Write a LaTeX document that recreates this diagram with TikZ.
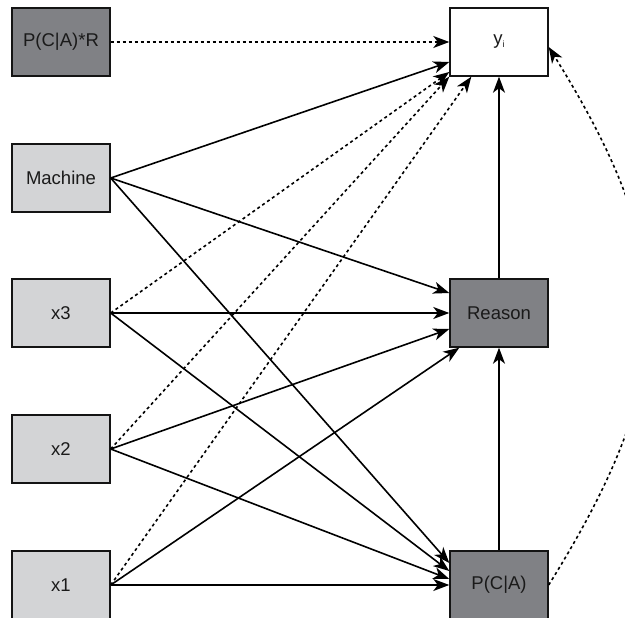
\documentclass[tikz,border=0pt]{standalone}
\usepackage{fontspec}
\setmainfont{Liberation Sans}
\usetikzlibrary{arrows.meta}
\definecolor{darkfill}{RGB}{128,129,133}
\definecolor{lightfill}{RGB}{211,212,214}
\definecolor{txt}{RGB}{26,26,26}
\definecolor{edgecol}{RGB}{20,20,20}
\begin{document}
\begin{tikzpicture}[x=1pt,y=-1pt,
  box/.style={draw=edgecol, line width=1.4pt, minimum width=98pt, minimum height=68pt,
    inner sep=0pt, font=\fontsize{18.5}{20}\selectfont, text=txt},
  darkbox/.style={box, fill=darkfill},
  lightbox/.style={box, fill=lightfill},
  plainbox/.style={box, fill=white},
  arr/.style={-{Stealth[length=16pt,width=12pt,inset=4.5pt]}, line width=1.6pt, draw=black},
  dotarr/.style={arr, dash pattern=on 3pt off 3pt}
]
\useasboundingbox (0,0) rectangle (625,618);
% left column
\node[darkbox]  (prr)  at (61,42)  {P(C|A)*R};
\node[lightbox] (mach) at (61,178) {Machine};
\node[lightbox] (x3)   at (61,313) {x3};
\node[lightbox] (x2)   at (61,449) {x2};
\node[lightbox] (x1)   at (61,585) {x1};
% right column
\node[plainbox] (yi)  at (499,42)  {y\raisebox{-2.5pt}{\fontsize{9}{9}\selectfont i}};
\node[darkbox]  (rea) at (499,313) {Reason};
\node[darkbox]  (pca) at (499,585) {P(C|A)};
% dotted edges
\draw[dotarr] (prr.east) -- (yi.west);
\draw[dotarr] (x3.east) -- ([yshift=-30pt]yi.west);
\draw[dotarr] (x2.east) -- (yi.south west);
\draw[dotarr] (x1.east) -- ([xshift=22pt]yi.south west);
% solid edges
\draw[arr] (mach.east) -- ([yshift=-20pt]yi.west);
\draw[arr] (mach.east) -- ([yshift=20pt]rea.west);
\draw[arr] (mach.east) -- ([yshift=22pt]pca.west);
\draw[arr] (x3.east) -- (rea.west);
\draw[arr] (x3.east) -- ([yshift=14pt]pca.west);
\draw[arr] (x2.east) -- ([yshift=-16pt]rea.west);
\draw[arr] (x2.east) -- ([yshift=6pt]pca.west);
\draw[arr] (x1.east) -- ([xshift=10pt]rea.south west);
\draw[arr] (x1.east) -- (pca.west);
\draw[arr] (rea.north) -- (yi.south);
\draw[arr] (pca.north) -- (rea.south);
% curved dotted edge
\draw[dotarr] (pca.east) .. controls +(132,-212) and +(132,212) .. ([yshift=-5pt]yi.east);
\end{tikzpicture}
\end{document}
